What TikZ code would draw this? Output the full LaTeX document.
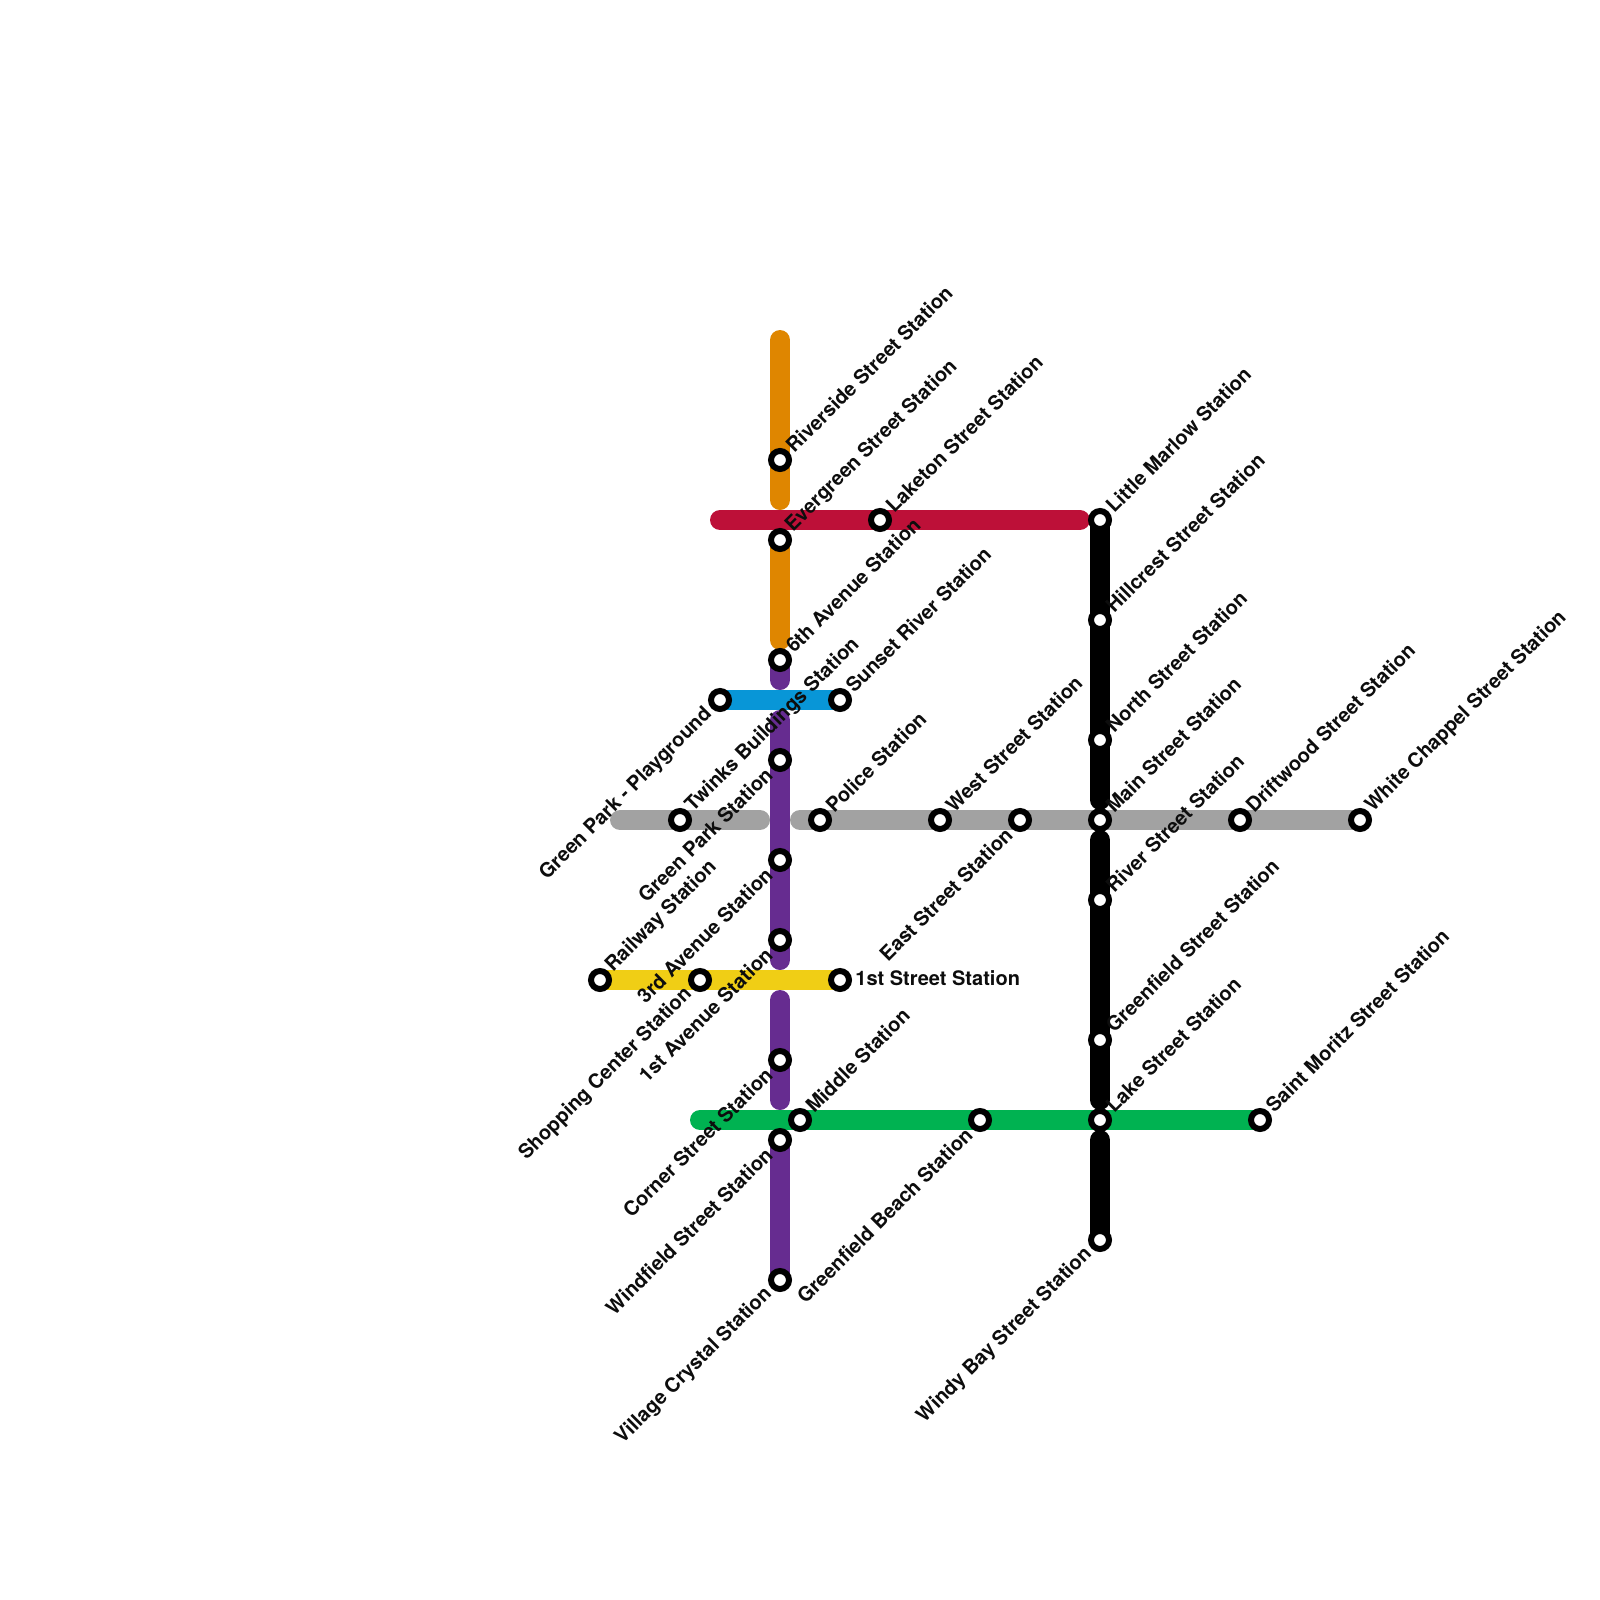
\documentclass[tikz,border=0pt]{standalone}
\usepackage{fontspec}
\setmainfont{TeX Gyre Heros}
\usetikzlibrary{backgrounds}
\definecolor{orangeline}{HTML}{DF8600}
\definecolor{redline}{HTML}{BD1038}
\definecolor{purpleline}{HTML}{662C90}
\definecolor{blueline}{HTML}{0896D7}
\definecolor{grayline}{HTML}{A2A2A2}
\definecolor{yellowline}{HTML}{F0CE15}
\definecolor{greenline}{HTML}{00B251}
\tikzset{x=0.5pt,y=-0.5pt,
 stn/.style={circle,draw=black,fill=white,line width=3pt,minimum size=9pt,inner sep=0pt,outer sep=0pt},
 metro/.style={line width=10pt,line cap=round},
 lr/.style={rotate=45,anchor=west,inner sep=0pt,font=\bfseries\fontsize{10}{11}\selectfont,text=black!95},
 ll/.style={rotate=45,anchor=east,inner sep=0pt,font=\bfseries\fontsize{10}{11}\selectfont,text=black!95},
 lh/.style={anchor=west,inner sep=0pt,font=\bfseries\fontsize{10}{11}\selectfont,text=black!95}}
\newcommand{\stR}[4]{\node[stn] (#1) at (#2,#3) {}; \node[lr] (#1t) at ([shift={(9,-11)}]#1.center) {#4};}
\newcommand{\stL}[4]{\node[stn] (#1) at (#2,#3) {}; \node[ll] (#1t) at ([shift={(-11,11)}]#1.center) {#4};}
\begin{document}
\begin{tikzpicture}
\useasboundingbox (0,0) rectangle (1600,1600);
\stR{riverside}{780}{460}{Riverside Street Station}
\stR{evergreen}{780}{540}{Evergreen Street Station}
\stR{laketon}{880}{520}{Laketon Street Station}
\stR{sixth}{780}{660}{6th Avenue Station}
\stL{playground}{720}{700}{Green Park - Playground}
\stR{sunset}{840}{700}{Sunset River Station}
\stL{greenpark}{780}{760}{Green Park Station}
\stR{twinks}{680}{820}{Twinks Buildings Station}
\stR{police}{820}{820}{Police Station}
\stR{west}{940}{820}{West Street Station}
\stL{east}{1020}{820}{East Street Station}
\stR{main}{1100}{820}{Main Street Station}
\stR{driftwood}{1240}{820}{Driftwood Street Station}
\stR{chappel}{1360}{820}{White Chappel Street Station}
\stL{third}{780}{860}{3rd Avenue Station}
\stL{firstave}{780}{940}{1st Avenue Station}
\stR{railway}{600}{980}{Railway Station}
\stL{shopping}{700}{980}{Shopping Center Station}
\node[stn] (firststreet) at (840,980) {};
\node[lh] (firststreett) at (855,978) {1st Street Station};
\stL{corner}{780}{1060}{Corner Street Station}
\stR{middle}{800}{1120}{Middle Station}
\stL{beach}{980}{1120}{Greenfield Beach Station}
\stR{moritz}{1260}{1120}{Saint Moritz Street Station}
\stL{windfield}{780}{1140}{Windfield Street Station}
\stL{village}{780}{1280}{Village Crystal Station}
\stR{marlow}{1100}{520}{Little Marlow Station}
\stR{hillcrest}{1100}{620}{Hillcrest Street Station}
\stR{north}{1100}{740}{North Street Station}
\stR{river}{1100}{900}{River Street Station}
\stR{gstreet}{1100}{1040}{Greenfield Street Station}
\stR{lake}{1100}{1120}{Lake Street Station}
\stL{windy}{1100}{1240}{Windy Bay Street Station}
\coordinate (oa) at (780,340); \coordinate (ob) at (780,500); \coordinate (oc) at (780,640);
\coordinate (pa) at (780,680); \coordinate (pb) at (780,720); \coordinate (pc) at (780,960);
\coordinate (pd) at (780,1000); \coordinate (pe) at (780,1100);
\coordinate (ra) at (720,520); \coordinate (rb) at (1080,520);
\coordinate (ga) at (620,820); \coordinate (gb) at (760,820); \coordinate (gc) at (800,820);
\coordinate (na) at (700,1120);
\coordinate (ka) at (1100,800); \coordinate (kb) at (1100,840); \coordinate (kc) at (1100,1100); \coordinate (kd) at (1100,1140);
\begin{scope}[on background layer]
\draw[metro,orangeline] (oa) -- (ob);
\draw[metro,orangeline] (evergreen.center) -- (oc);
\draw[metro,purpleline] (sixth.center) -- (pa);
\draw[metro,purpleline] (pb) -- (pc);
\draw[metro,purpleline] (pd) -- (pe);
\draw[metro,purpleline] (windfield.center) -- (village.center);
\draw[metro,redline] (ra) -- (rb);
\draw[metro,blueline] (playground.center) -- (sunset.center);
\draw[metro,grayline] (ga) -- (gb);
\draw[metro,grayline] (gc) -- (chappel.center);
\draw[metro,yellowline] (railway.center) -- (firststreet.center);
\draw[metro,greenline] (na) -- (moritz.center);
\draw[metro,black] (marlow.center) -- (ka);
\draw[metro,black] (kb) -- (kc);
\draw[metro,black] (kd) -- (windy.center);
\end{scope}
\end{tikzpicture}
\end{document}
